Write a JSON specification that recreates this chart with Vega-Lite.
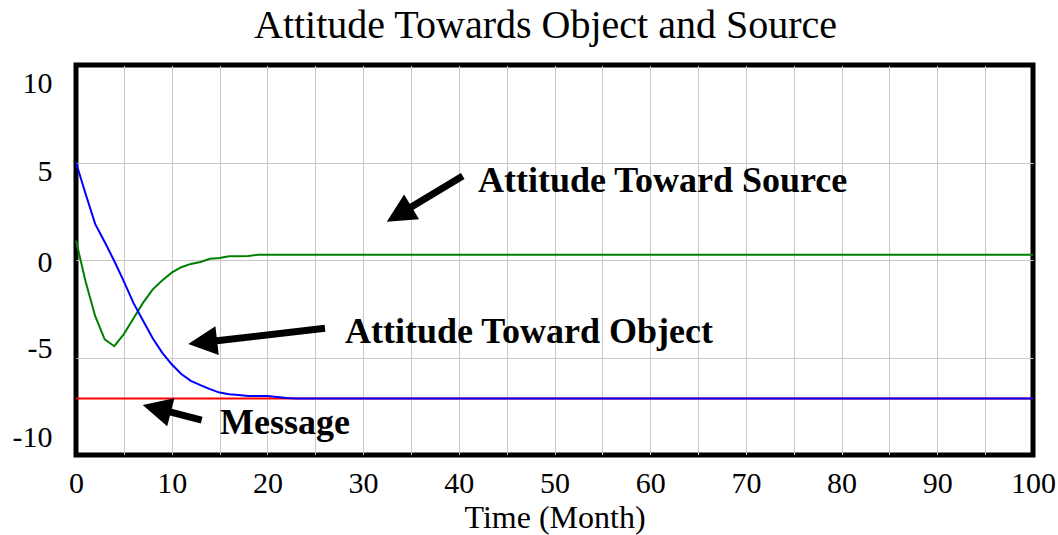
{
  "$schema": "https://vega.github.io/schema/vega-lite/v6.json",
  "width": 957,
  "height": 390,
  "autosize": {"type": "none"},
  "padding": {"left": 76, "top": 65, "right": 25, "bottom": 80},
  "background": "white",
  "config": {
    "view": {"stroke": "black", "strokeWidth": 5},
    "font": "Liberation Serif",
    "axis": {
      "labelFont": "Liberation Serif",
      "labelFontSize": 30,
      "labelColor": "black",
      "titleFont": "Liberation Serif",
      "titleFontSize": 32,
      "titleFontWeight": "normal",
      "titleColor": "black",
      "domain": false,
      "ticks": false,
      "tickSize": 0,
      "grid": true,
      "gridWidth": 1
    }
  },
  "title": {
    "text": "Attitude Towards Object and Source",
    "font": "Liberation Serif",
    "fontSize": 40,
    "fontWeight": "normal",
    "color": "black",
    "anchor": "middle",
    "frame": "group",
    "dx": -9,
    "dy": 13,
    "baseline": "alphabetic",
    "offset": 0
  },
  "datasets": {
    "series": [
      {"t": 0, "v": 5.0, "series": "Attitude Toward Object"},
      {"t": 1, "v": 3.4, "series": "Attitude Toward Object"},
      {"t": 2, "v": 1.85, "series": "Attitude Toward Object"},
      {"t": 3, "v": 0.92, "series": "Attitude Toward Object"},
      {"t": 4, "v": -0.05, "series": "Attitude Toward Object"},
      {"t": 5, "v": -1.1, "series": "Attitude Toward Object"},
      {"t": 6, "v": -2.2, "series": "Attitude Toward Object"},
      {"t": 7, "v": -3.1, "series": "Attitude Toward Object"},
      {"t": 8, "v": -4.0, "series": "Attitude Toward Object"},
      {"t": 9, "v": -4.75, "series": "Attitude Toward Object"},
      {"t": 10, "v": -5.35, "series": "Attitude Toward Object"},
      {"t": 11, "v": -5.85, "series": "Attitude Toward Object"},
      {"t": 12, "v": -6.2, "series": "Attitude Toward Object"},
      {"t": 13, "v": -6.42, "series": "Attitude Toward Object"},
      {"t": 14, "v": -6.62, "series": "Attitude Toward Object"},
      {"t": 15, "v": -6.8, "series": "Attitude Toward Object"},
      {"t": 16, "v": -6.88, "series": "Attitude Toward Object"},
      {"t": 17, "v": -6.92, "series": "Attitude Toward Object"},
      {"t": 18, "v": -6.97, "series": "Attitude Toward Object"},
      {"t": 19, "v": -6.98, "series": "Attitude Toward Object"},
      {"t": 20, "v": -6.98, "series": "Attitude Toward Object"},
      {"t": 21, "v": -7.02, "series": "Attitude Toward Object"},
      {"t": 22, "v": -7.08, "series": "Attitude Toward Object"},
      {"t": 23, "v": -7.1, "series": "Attitude Toward Object"},
      {"t": 24, "v": -7.1, "series": "Attitude Toward Object"},
      {"t": 25, "v": -7.1, "series": "Attitude Toward Object"},
      {"t": 30, "v": -7.1, "series": "Attitude Toward Object"},
      {"t": 40, "v": -7.1, "series": "Attitude Toward Object"},
      {"t": 50, "v": -7.1, "series": "Attitude Toward Object"},
      {"t": 60, "v": -7.1, "series": "Attitude Toward Object"},
      {"t": 70, "v": -7.1, "series": "Attitude Toward Object"},
      {"t": 80, "v": -7.1, "series": "Attitude Toward Object"},
      {"t": 90, "v": -7.1, "series": "Attitude Toward Object"},
      {"t": 100, "v": -7.1, "series": "Attitude Toward Object"},
      {"t": 0, "v": 1.0, "series": "Attitude Toward Source"},
      {"t": 1, "v": -1.1, "series": "Attitude Toward Source"},
      {"t": 2, "v": -2.87, "series": "Attitude Toward Source"},
      {"t": 3, "v": -4.07, "series": "Attitude Toward Source"},
      {"t": 4, "v": -4.42, "series": "Attitude Toward Source"},
      {"t": 5, "v": -3.8, "series": "Attitude Toward Source"},
      {"t": 6, "v": -3.0, "series": "Attitude Toward Source"},
      {"t": 7, "v": -2.2, "series": "Attitude Toward Source"},
      {"t": 8, "v": -1.52, "series": "Attitude Toward Source"},
      {"t": 9, "v": -1.05, "series": "Attitude Toward Source"},
      {"t": 10, "v": -0.65, "series": "Attitude Toward Source"},
      {"t": 11, "v": -0.37, "series": "Attitude Toward Source"},
      {"t": 12, "v": -0.2, "series": "Attitude Toward Source"},
      {"t": 13, "v": -0.1, "series": "Attitude Toward Source"},
      {"t": 14, "v": 0.06, "series": "Attitude Toward Source"},
      {"t": 15, "v": 0.1, "series": "Attitude Toward Source"},
      {"t": 16, "v": 0.19, "series": "Attitude Toward Source"},
      {"t": 17, "v": 0.19, "series": "Attitude Toward Source"},
      {"t": 18, "v": 0.2, "series": "Attitude Toward Source"},
      {"t": 19, "v": 0.27, "series": "Attitude Toward Source"},
      {"t": 20, "v": 0.27, "series": "Attitude Toward Source"},
      {"t": 25, "v": 0.27, "series": "Attitude Toward Source"},
      {"t": 30, "v": 0.27, "series": "Attitude Toward Source"},
      {"t": 40, "v": 0.27, "series": "Attitude Toward Source"},
      {"t": 50, "v": 0.27, "series": "Attitude Toward Source"},
      {"t": 60, "v": 0.27, "series": "Attitude Toward Source"},
      {"t": 70, "v": 0.27, "series": "Attitude Toward Source"},
      {"t": 80, "v": 0.27, "series": "Attitude Toward Source"},
      {"t": 90, "v": 0.27, "series": "Attitude Toward Source"},
      {"t": 100, "v": 0.27, "series": "Attitude Toward Source"},
      {"t": 0, "v": -7.1, "series": "Message"},
      {"t": 10, "v": -7.1, "series": "Message"},
      {"t": 20, "v": -7.1, "series": "Message"},
      {"t": 30, "v": -7.1, "series": "Message"},
      {"t": 40, "v": -7.1, "series": "Message"},
      {"t": 50, "v": -7.1, "series": "Message"},
      {"t": 60, "v": -7.1, "series": "Message"},
      {"t": 70, "v": -7.1, "series": "Message"},
      {"t": 80, "v": -7.1, "series": "Message"},
      {"t": 90, "v": -7.1, "series": "Message"},
      {"t": 100, "v": -7.1, "series": "Message"}
    ],
    "shafts": [
      {"t": 40.41, "v": 4.31, "t2": 34.25, "v2": 2.49},
      {"t": 26.02, "v": -3.5, "t2": 13.81, "v2": -4.19},
      {"t": 13.13, "v": -8.21, "t2": 9.0, "v2": -7.69}
    ],
    "heads": [
      {"t": 32.47, "v": 1.96, "heading": 239},
      {"t": 11.73, "v": -4.31, "heading": 263.4},
      {"t": 6.97, "v": -7.44, "heading": 284.3}
    ],
    "notes": [
      {"t": 42.0, "v": 3.5, "label": "Attitude Toward Source"},
      {"t": 28.1, "v": -4.24, "label": "Attitude Toward Object"},
      {"t": 15.05, "v": -8.9, "label": "Message"}
    ]
  },
  "encoding": {
    "x": {
      "field": "t",
      "type": "quantitative",
      "scale": {"domain": [0, 100], "nice": false, "zero": false},
      "axis": {
        "title": "Time (Month)",
        "values": [0, 5, 10, 15, 20, 25, 30, 35, 40, 45, 50, 55, 60, 65, 70, 75, 80, 85, 90, 95, 100],
        "labelExpr": "datum.value % 10 == 0 ? toString(datum.value) : ''",
        "labelBaseline": "alphabetic",
        "labelPadding": 37,
        "labelFlush": false,
        "labelOverlap": false,
        "titlePadding": 4,
        "gridColor": {"condition": {"test": "datum.value == 0 || datum.value == 100", "value": "black"}, "value": "#c8c8c8"}
      }
    },
    "y": {
      "field": "v",
      "type": "quantitative",
      "scale": {"domain": [-10, 10], "nice": false, "zero": false},
      "axis": {
        "title": null,
        "values": [-10, -5, 0, 5, 10],
        "labelExpr": "toString(datum.value)",
        "labelPadding": 24,
        "labelAlign": "right",
        "labelBaseline": "middle",
        "labelFlush": false,
        "labelOverlap": false,
        "labelOffset": {"expr": "datum.value == 10 ? 18 : datum.value == 5 ? 9 : datum.value == 0 ? 2.5 : datum.value == -5 ? -9 : -17.5"},
        "gridColor": {"condition": {"test": "datum.value == 10 || datum.value == -10", "value": "black"}, "value": "#c8c8c8"}
      }
    }
  },
  "layer": [
    {
      "data": {"name": "series"},
      "transform": [{"filter": "datum.series == 'Message'"}],
      "mark": {"type": "line", "color": "#ff0000", "strokeWidth": 2}
    },
    {
      "data": {"name": "series"},
      "transform": [{"filter": "datum.series == 'Attitude Toward Source'"}],
      "mark": {"type": "line", "color": "#008000", "strokeWidth": 2}
    },
    {
      "data": {"name": "series"},
      "transform": [{"filter": "datum.series == 'Attitude Toward Object'"}],
      "mark": {"type": "line", "color": "#0000ff", "strokeWidth": 2}
    },
    {
      "data": {"name": "shafts"},
      "mark": {"type": "rule", "color": "black", "strokeWidth": 7, "strokeCap": "butt"},
      "encoding": {
        "x2": {"field": "t2"},
        "y2": {"field": "v2"}
      }
    },
    {
      "data": {"name": "heads"},
      "mark": {"type": "point", "shape": "M0,0L0.5,1L-0.5,1Z", "filled": true, "color": "black", "opacity": 1, "size": 3364, "strokeWidth": 0},
      "encoding": {
        "angle": {"field": "heading", "type": "quantitative", "scale": null}
      }
    },
    {
      "data": {"name": "notes"},
      "mark": {"type": "text", "font": "Liberation Serif", "fontWeight": "bold", "fontSize": 36, "align": "left", "baseline": "alphabetic", "color": "black"},
      "encoding": {
        "text": {"field": "label", "type": "nominal"}
      }
    }
  ]
}
